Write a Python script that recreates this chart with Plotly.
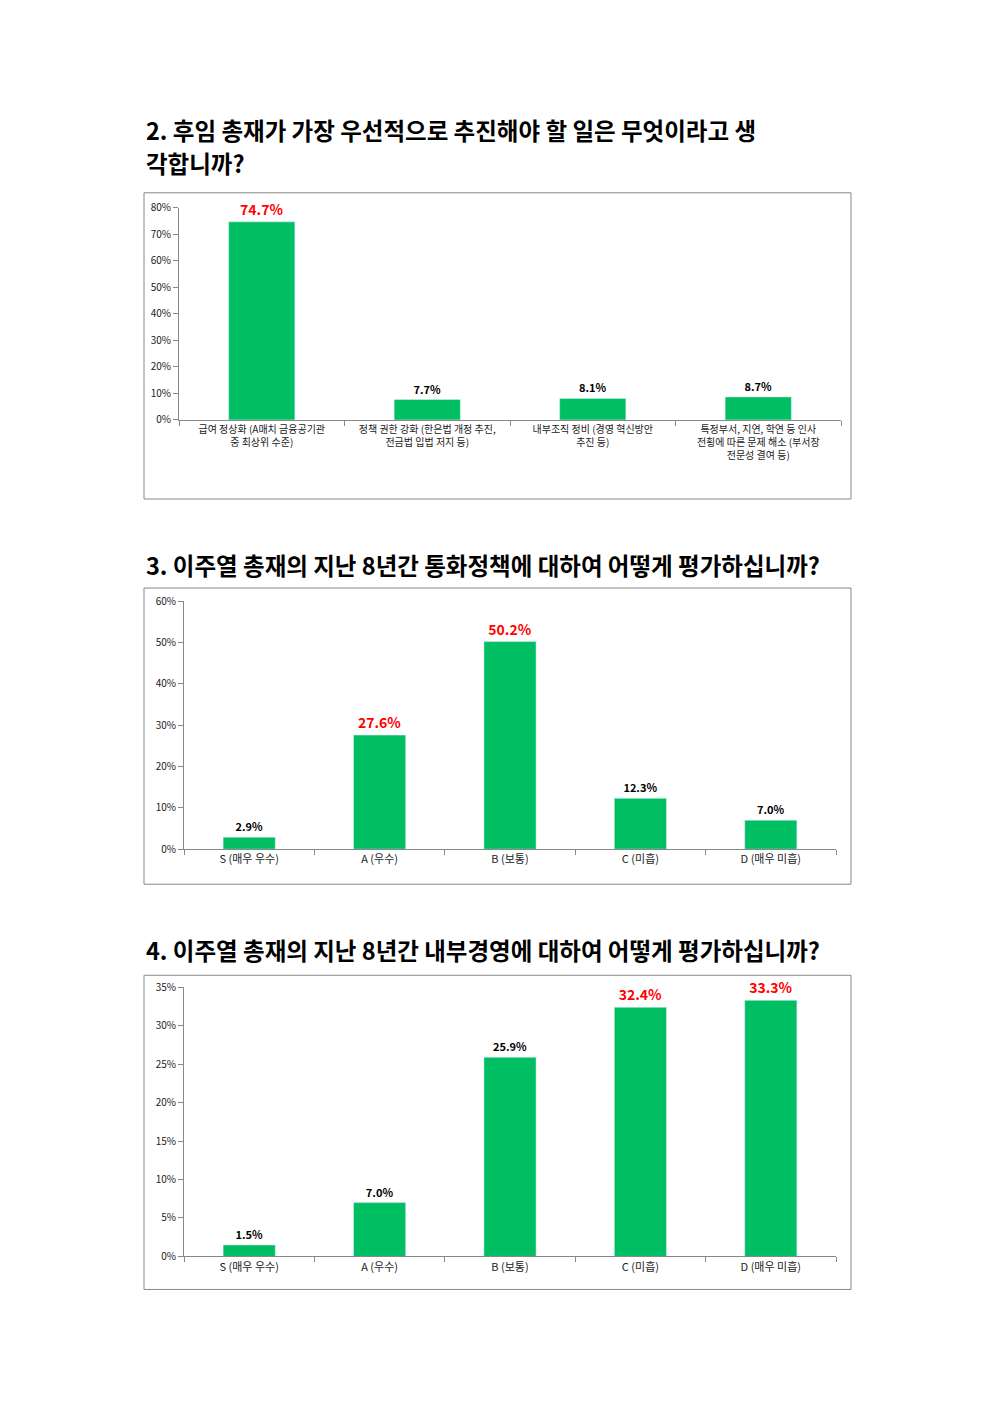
import plotly.graph_objects as go

W, H = 992, 1403
green = "#00BF63"

title_lines = [["2. 후임 총재가 가장 우선적으로 추진해야 할 일은 무엇이라고 생", "각합니까?"],
               ["3. 이주열 총재의 지난 8년간 통화정책에 대하여 어떻게 평가하십니까?"],
               ["4. 이주열 총재의 지난 8년간 내부경영에 대하여 어떻게 평가하십니까?"]]
cats1 = ["급여 정상화 (A매치 금융공기관<br>중 최상위 수준)",
         "정책 권한 강화 (한은법 개정 추진,<br>전금법 입법 저지 등)",
         "내부조직 정비 (경영 혁신방안<br>추진 등)",
         "특정부서, 지연, 학연 등 인사<br>전횡에 따른 문제 해소 (부서장<br>전문성 결여 등)"]
vals1 = [74.7, 7.7, 8.1, 8.7]
cats2 = ["S (매우 우수)", "A (우수)", "B (보통)", "C (미흡)", "D (매우 미흡)"]
vals2 = [2.9, 27.6, 50.2, 12.3, 7.0]
cats3 = ["S (매우 우수)", "A (우수)", "B (보통)", "C (미흡)", "D (매우 미흡)"]
vals3 = [1.5, 7.0, 25.9, 32.4, 33.3]
red_idx = [[0], [1, 2], [3, 4]]

# pixel layout (not data)
boxes = [(143, 193, 850, 499), (143, 588, 850, 884), (143, 975, 850, 1289)]
plots = [(178, 208, 840, 420, 80, 10), (183, 601, 835, 849, 60, 10), (183, 987, 835, 1256, 35, 5)]
title_y = [[130, 163], [565], [950]]
fsz = [10, 11, 11]

fig = go.Figure()
fx = lambda p: (p - 7) / W
fy = lambda p: 1 - ((p - 17.3) / 0.988) / H
shapes, annos = [], []
for i, (cats, vals) in enumerate([(cats1, vals1), (cats2, vals2), (cats3, vals3)]):
    ax = "" if i == 0 else str(i + 1)
    colors = ["#FF0000" if j in red_idx[i] else "#000000" for j in range(len(vals))]
    sizes = [14 if j in red_idx[i] else 11 for j in range(len(vals))]
    fig.add_trace(go.Bar(x=cats, y=vals, xaxis="x" + ax, yaxis="y" + ax,
                         marker_color=green, width=0.4,
                         text=[f"<b>{v:.1f}%</b>" for v in vals], textposition="outside",
                         cliponaxis=False,
                         textfont=dict(color=colors, size=sizes, family="Noto Sans CJK KR"),
                         hoverinfo="skip"))
    x0, y0, x1, y1, ymax, dt = plots[i]
    fig.layout["xaxis" + ax] = dict(domain=[fx(x0), fx(x1)], anchor="y" + ax,
                                    showline=True, linecolor="#888", ticks="outside",
                                    tickson="boundaries", ticklen=5, tickcolor="#888",
                                    tickangle=0, tickfont=dict(size=fsz[i], color="#222"))
    fig.layout["yaxis" + ax] = dict(domain=[fy(y1), fy(y0)], anchor="x" + ax,
                                    range=[0, ymax], dtick=dt, ticksuffix="%",
                                    showline=True, linecolor="#888", ticks="outside",
                                    ticklen=5, tickcolor="#888", showgrid=False,
                                    tickfont=dict(size=10, color="#222"))
    bx0, by0, bx1, by1 = boxes[i]
    shapes.append(dict(type="rect", xref="paper", yref="paper", x0=fx(bx0), x1=fx(bx1),
                       y0=fy(by1), y1=fy(by0), line=dict(color="#888", width=1)))
    for line, ty in zip(title_lines[i], title_y[i]):
        annos.append(dict(text="<b>" + line + "</b>", xref="paper", yref="paper", x=fx(143), y=fy(ty),
                          xanchor="left", yanchor="middle", showarrow=False, align="left",
                          font=dict(size=23.5, family="Noto Sans CJK KR", color="#000")))

fig.update_layout(width=W, height=H, margin=dict(l=0, r=0, t=0, b=0), showlegend=False,
                  plot_bgcolor="white", paper_bgcolor="white", shapes=shapes, annotations=annos,
                  font=dict(family="Noto Sans CJK KR"))
fig.write_html("out.html")
